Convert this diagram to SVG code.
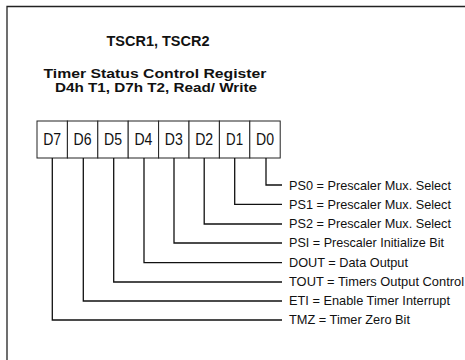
<svg xmlns="http://www.w3.org/2000/svg" width="465" height="360" viewBox="0 0 465 360">
<style>
.frame{fill:none;stroke:#222;stroke-width:1.3}
.cell{fill:#fff;stroke:#222;stroke-width:1}
.conn{fill:none;stroke:#111;stroke-width:1.3}
.t{font-family:"Liberation Sans",Arial,sans-serif;fill:#111}
.title{font-weight:bold;font-size:14px;text-anchor:middle}
.sub{font-weight:bold;font-size:13.5px;text-anchor:middle}
.bit{font-size:16px;text-anchor:middle}
.lbl{font-size:13px}
</style>
<rect width="465" height="360" fill="#fff"/>
<path class="frame" d="M7,360 V6.5 H465"/>
<g id="title">
<text class="t title" x="158" y="46" textLength="103" lengthAdjust="spacingAndGlyphs">TSCR1, TSCR2</text>
<text class="t sub" x="155" y="77.5" textLength="223" lengthAdjust="spacingAndGlyphs">Timer  Status Control Register</text>
<text class="t sub" x="156" y="92" textLength="202" lengthAdjust="spacingAndGlyphs">D4h T1, D7h T2,  Read/ Write</text>
</g>
<g id="register">
<g id="D7"><rect class="cell" x="37" y="121" width="30.4" height="37"/><text class="t bit" x="52.2" y="145" textLength="18" lengthAdjust="spacingAndGlyphs">D7</text></g>
<g id="D6"><rect class="cell" x="67.4" y="121" width="30.4" height="37"/><text class="t bit" x="82.6" y="145" textLength="18" lengthAdjust="spacingAndGlyphs">D6</text></g>
<g id="D5"><rect class="cell" x="97.8" y="121" width="30.4" height="37"/><text class="t bit" x="113" y="145" textLength="18" lengthAdjust="spacingAndGlyphs">D5</text></g>
<g id="D4"><rect class="cell" x="128.2" y="121" width="30.4" height="37"/><text class="t bit" x="143.4" y="145" textLength="18" lengthAdjust="spacingAndGlyphs">D4</text></g>
<g id="D3"><rect class="cell" x="158.6" y="121" width="30.4" height="37"/><text class="t bit" x="173.8" y="145" textLength="18" lengthAdjust="spacingAndGlyphs">D3</text></g>
<g id="D2"><rect class="cell" x="189" y="121" width="30.4" height="37"/><text class="t bit" x="204.2" y="145" textLength="18" lengthAdjust="spacingAndGlyphs">D2</text></g>
<g id="D1"><rect class="cell" x="219.4" y="121" width="30.4" height="37"/><text class="t bit" x="234.6" y="145" textLength="17" lengthAdjust="spacingAndGlyphs">D1</text></g>
<g id="D0"><rect class="cell" x="249.8" y="121" width="30.4" height="37"/><text class="t bit" x="265" y="145" textLength="18" lengthAdjust="spacingAndGlyphs">D0</text></g>
</g>
<g id="connectors">
<path class="conn" d="M266,158 V185 H282"/>
<path class="conn" d="M234.7,158 V204.3 H282"/>
<path class="conn" d="M204.2,158 V224 H282"/>
<path class="conn" d="M174,158 V243 H282"/>
<path class="conn" d="M144,158 V262.7 H282"/>
<path class="conn" d="M113.7,158 V282 H282"/>
<path class="conn" d="M83.3,158 V301 H282"/>
<path class="conn" d="M52.3,158 V320 H282"/>
</g>
<g id="labels">
<text class="t lbl" x="289" y="189.5" textLength="162" lengthAdjust="spacingAndGlyphs">PS0 = Prescaler Mux. Select</text>
<text class="t lbl" x="289" y="208.8" textLength="162" lengthAdjust="spacingAndGlyphs">PS1 = Prescaler Mux. Select</text>
<text class="t lbl" x="289" y="228.3" textLength="162" lengthAdjust="spacingAndGlyphs">PS2 = Prescaler Mux. Select</text>
<text class="t lbl" x="289" y="247.3" textLength="155" lengthAdjust="spacingAndGlyphs">PSI = Prescaler Initialize Bit</text>
<text class="t lbl" x="289" y="267" textLength="119" lengthAdjust="spacingAndGlyphs">DOUT = Data Output</text>
<text class="t lbl" x="289" y="286.3" textLength="175" lengthAdjust="spacingAndGlyphs">TOUT = Timers  Output Control</text>
<text class="t lbl" x="289" y="305.3" textLength="161" lengthAdjust="spacingAndGlyphs">ETI = Enable Timer Interrupt</text>
<text class="t lbl" x="289" y="324.3" textLength="121" lengthAdjust="spacingAndGlyphs">TMZ = Timer Zero Bit</text>
</g>
</svg>
